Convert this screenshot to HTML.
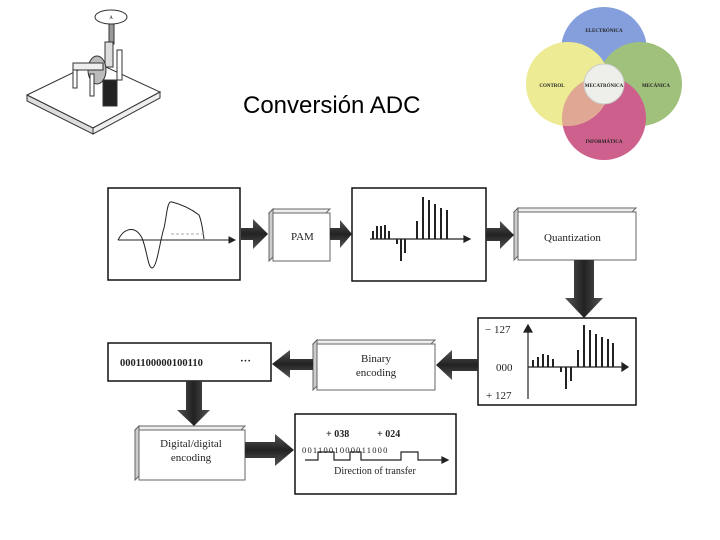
<!DOCTYPE html>
<html><head><meta charset="utf-8"><style>
html,body{margin:0;padding:0;background:#fff;width:720px;height:540px;overflow:hidden}
svg{display:block}
text{font-family:"Liberation Serif",serif}
</style></head><body>
<svg width="720" height="540" viewBox="0 0 720 540">
<defs>
<linearGradient id="ag" x1="0" y1="0" x2="0" y2="1"><stop offset="0" stop-color="#555"/><stop offset=".5" stop-color="#222"/><stop offset="1" stop-color="#555"/></linearGradient>
<linearGradient id="agv" x1="0" y1="0" x2="1" y2="0"><stop offset="0" stop-color="#555"/><stop offset=".5" stop-color="#222"/><stop offset="1" stop-color="#555"/></linearGradient>
</defs>
<!-- machine icon -->
<g stroke="#333" stroke-width="1" fill="#fff">
<polygon points="27,95 95,62 160,92 93,128"/>
<polygon points="27,95 93,128 93,134 27,101" fill="#ddd"/>
<polygon points="93,128 160,92 160,98 93,134" fill="#eee"/>
<ellipse cx="111" cy="17" rx="16" ry="7"/>
<rect x="109" y="24" width="5" height="20" fill="#999"/>
<rect x="105" y="42" width="8" height="25" fill="#ddd"/>
<ellipse cx="97" cy="70" rx="9" ry="14" fill="#bbb"/>
<rect x="73" y="63" width="30" height="7" fill="#eee"/>
<rect x="73" y="70" width="4" height="18"/>
<rect x="90" y="74" width="4" height="22"/>
<rect x="103" y="80" width="14" height="26" fill="#222"/>
<rect x="117" y="50" width="5" height="30"/>
</g>
<text x="111" y="19" font-size="5" text-anchor="middle">A</text>
<!-- title -->
<text x="243" y="113" font-family="Liberation Sans,sans-serif" style="font-family:'Liberation Sans',sans-serif" font-size="24">Conversión ADC</text>
<!-- venn -->
<g opacity=".85">
<circle cx="604" cy="50" r="43" fill="#6f8fd6"/>
<circle cx="640" cy="84" r="42" fill="#8fb765"/>
<circle cx="568" cy="84" r="42" fill="#e6e37a"/>
<circle cx="604" cy="118" r="42" fill="#c5447a"/>
</g>
<circle cx="568" cy="84" r="42" fill="#f1ef9b" opacity=".5"/>
<circle cx="604" cy="84" r="20" fill="#eeeeea" stroke="#ccc"/>
<g font-family="Liberation Sans,sans-serif" style="font-family:'Liberation Sans',sans-serif" font-size="5" font-weight="bold" fill="#222" text-anchor="middle">
<text x="604" y="32">ELECTRÓNICA</text>
<text x="552" y="87">CONTROL</text>
<text x="656" y="87">MECÁNICA</text>
<text x="604" y="87">MECATRÓNICA</text>
<text x="604" y="143">INFORMÁTICA</text>
</g>
<!-- diagram -->
<g stroke="#111" fill="#fff">
<rect x="108" y="188" width="132" height="92" stroke-width="1.5"/>
<rect x="352" y="188" width="134" height="93" stroke-width="1.5"/>
<rect x="478" y="318" width="158" height="87" stroke-width="1.5"/>
<rect x="108" y="343" width="163" height="38" stroke-width="1.5"/>
<rect x="295" y="414" width="161" height="80" stroke-width="1.5"/>
</g>
<!-- 3d boxes -->
<g stroke="#666" stroke-width="1">
<polygon points="269,213 273,209 330,209 326,213" fill="#eee"/><polygon points="269,213 273,209 273,257 269,261" fill="#ccc"/><rect x="273" y="213" width="57" height="48" fill="#fff"/>
<polygon points="514,212 518,208 636,208 632,212" fill="#eee"/><polygon points="514,212 518,208 518,256 514,260" fill="#ccc"/><rect x="518" y="212" width="118" height="48" fill="#fff"/>
<polygon points="313,344 317,340 435,340 431,344" fill="#eee"/><polygon points="313,344 317,340 317,386 313,390" fill="#ccc"/><rect x="317" y="344" width="118" height="46" fill="#fff"/>
<polygon points="135,430 139,426 245,426 241,430" fill="#eee"/><polygon points="135,430 139,426 139,476 135,480" fill="#ccc"/><rect x="139" y="430" width="106" height="50" fill="#fff"/>
</g>
<!-- arrows -->
<g>
<polygon points="241,228 253,228 253,219 268,234 253,249 253,240 241,240" fill="url(#ag)"/>
<polygon points="330,228 340,228 340,220 352,234 340,248 340,240 330,240" fill="url(#ag)"/>
<polygon points="486,228 500,228 500,221 514,235 500,249 500,241 486,241" fill="url(#ag)"/>
<polygon points="574,260 594,260 594,298 603,298 584,318 565,298 574,298" fill="url(#agv)"/>
<polygon points="478,359 452,359 452,350 436,365 452,380 452,371 478,371" fill="url(#ag)"/>
<polygon points="313,359 290,359 290,350 272,364 290,378 290,370 313,370" fill="url(#ag)"/>
<polygon points="186,381 202,381 202,410 210,410 194,426 177,410 186,410" fill="url(#agv)"/>
<polygon points="245,442 275,442 275,434 294,450 275,466 275,458 245,458" fill="url(#ag)"/>
</g>
<!-- waveform box1 -->
<g stroke="#222" fill="none" stroke-width="1">
<line x1="118" y1="240" x2="229" y2="240"/><polygon points="229,237 235,240 229,243" fill="#222"/>
<path d="M118,240 C124,228 135,225 142,238 C147,250 148,268 152,268 C157,268 160,240 164,228 C167,215 167,200 172,202 C180,204 190,208 199,215 C202,222 203,232 204,239"/>
<line x1="171" y1="234" x2="204" y2="234" stroke="#aaa" stroke-dasharray="3 2"/>
</g>
<!-- PAM bars -->
<g stroke="#222" stroke-width="1.2">
<line x1="370" y1="239" x2="464" y2="239"/><polygon points="464,236 470,239 464,242" fill="#222"/>
<line x1="373" y1="239" x2="373" y2="231" stroke-width="2"/><line x1="377" y1="239" x2="377" y2="226" stroke-width="2"/><line x1="381" y1="239" x2="381" y2="226" stroke-width="2"/><line x1="385" y1="239" x2="385" y2="225" stroke-width="2"/><line x1="389" y1="239" x2="389" y2="231" stroke-width="2"/>
<line x1="397" y1="239" x2="397" y2="244" stroke-width="2"/><line x1="401" y1="239" x2="401" y2="261" stroke-width="2"/><line x1="405" y1="239" x2="405" y2="253" stroke-width="2"/>
<line x1="417" y1="239" x2="417" y2="221" stroke-width="2"/><line x1="423" y1="239" x2="423" y2="197" stroke-width="2"/><line x1="429" y1="239" x2="429" y2="200" stroke-width="2"/><line x1="435" y1="239" x2="435" y2="204" stroke-width="2"/><line x1="441" y1="239" x2="441" y2="208" stroke-width="2"/><line x1="447" y1="239" x2="447" y2="210" stroke-width="2"/>
</g>
<!-- quant box -->
<g stroke="#222" stroke-width="1.2">
<line x1="528" y1="326" x2="528" y2="399"/><polygon points="524,332 528,325 532,332" fill="#222"/>
<line x1="528" y1="367" x2="623" y2="367"/><polygon points="622,363 628,367 622,371" fill="#222"/>
<g stroke-width="2">
<line x1="533" y1="367" x2="533" y2="360"/><line x1="538" y1="367" x2="538" y2="357"/><line x1="543" y1="367" x2="543" y2="354"/><line x1="548" y1="367" x2="548" y2="355"/><line x1="553" y1="367" x2="553" y2="359"/>
<line x1="561" y1="367" x2="561" y2="372"/><line x1="566" y1="367" x2="566" y2="389"/><line x1="571" y1="367" x2="571" y2="381"/>
<line x1="578" y1="367" x2="578" y2="350"/><line x1="584" y1="367" x2="584" y2="325"/><line x1="590" y1="367" x2="590" y2="330"/><line x1="596" y1="367" x2="596" y2="334"/><line x1="602" y1="367" x2="602" y2="337"/><line x1="608" y1="367" x2="608" y2="339"/><line x1="613" y1="367" x2="613" y2="343"/>
</g>
</g>
<g font-size="11" fill="#222">
<text x="485" y="333">− 127</text><text x="496" y="371">000</text><text x="486" y="399">+ 127</text>
<text x="291" y="240">PAM</text>
<text x="544" y="241">Quantization</text>
<text x="376" y="362" text-anchor="middle">Binary</text><text x="376" y="376" text-anchor="middle">encoding</text>
<text x="191" y="447" text-anchor="middle">Digital/digital</text><text x="191" y="461" text-anchor="middle">encoding</text>
<text x="120" y="366" font-weight="bold" font-size="10.5">0001100000100110</text><text x="240" y="364" font-weight="bold" font-size="11">···</text>
<text x="326" y="437" font-weight="bold" font-size="10">+ 038</text><text x="377" y="437" font-weight="bold" font-size="10">+ 024</text>
<text x="302" y="453" font-size="8.5" letter-spacing="1.2">0011001000011000</text>
<text x="375" y="474" text-anchor="middle" font-size="10">Direction of transfer</text>
</g>
<g stroke="#222" fill="none" stroke-width="1.2">
<path d="M305,460 L318,460 L318,452 L334,452 L334,460 L350,460 L350,452 L361,452 L361,460 L401,460 L401,452 L418,452 L418,460 L442,460"/>
<polygon points="442,457 448,460 442,463" fill="#222"/>
</g>
</svg>
</body></html>
